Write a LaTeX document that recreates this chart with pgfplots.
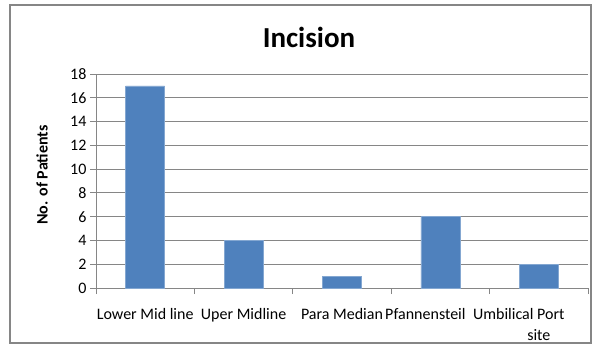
\documentclass[border=0pt]{standalone}
\usepackage{pgfplots}
\pgfplotsset{compat=1.18}
\usepackage{fontspec}
\setmainfont{Carlito}
\definecolor{barblue}{HTML}{4F81BD}
\definecolor{gridgray}{HTML}{868686}
\begin{document}
\begin{tikzpicture}
\path[use as bounding box] (-96pt,-76pt) rectangle (499pt,288pt);
\draw[color=gridgray, line width=1.2pt] (-86pt,-55pt) rectangle (495pt,283pt);
\begin{axis}[at={(0pt,0pt)}, anchor=south west, scale only axis,
  width=492pt, height=214pt,
  xmin=-0.5, xmax=4.5, ymin=0, ymax=18, ytick={0,2,...,18},
  xtick={0,1,2,3,4},
  xticklabels={Lower Mid line,Uper Midline,Para Median,{\hspace*{-30pt}Pfannensteil},{\hspace*{-40pt}Umbilical Port\\site}},
  major x tick style={draw=none},
  minor xtick={-0.5,0.5,1.5,2.5,3.5,4.5},
  minor x tick num=0,
  axis lines*=left, axis line style={-, gridgray, line width=0.9pt},
  tick align=outside, tick style={gridgray, line width=0.9pt},
  major tick length=6pt, minor tick length=6pt,
  ymajorgrids, grid style={gridgray, line width=0.9pt},
  /pgf/number format/assume math mode=true,
  ticklabel style={font=\fontsize{16}{21}\selectfont},
  xticklabel style={align=center, yshift=-11pt},
  ybar, bar width=39pt,
  clip=false,
]
\addplot[fill=barblue, draw=barblue!70!white, line width=0.6pt] coordinates {(0,17) (1,4) (2,1) (3,6) (4,2)};
\end{axis}
\node[font=\bfseries\fontsize{29}{34}\selectfont] at (213pt,251pt) {Incision};
\node[rotate=90, font=\bfseries\fontsize{16}{19}\selectfont] at (-54pt,113pt) {No. of Patients};
\end{tikzpicture}
\end{document}
